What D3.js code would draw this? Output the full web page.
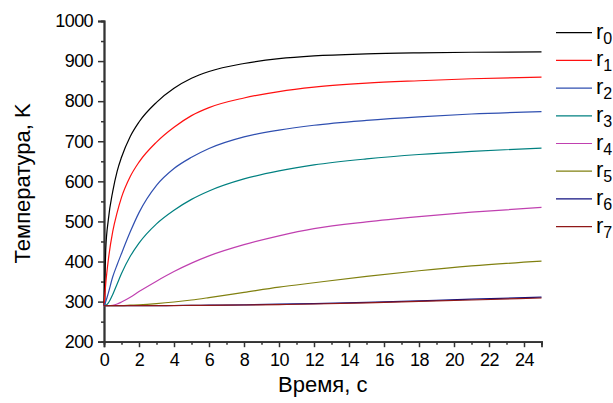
<!DOCTYPE html>
<html>
<head>
<meta charset="utf-8">
<script src="https://cdn.jsdelivr.net/npm/d3@7/dist/d3.min.js"></script>
<style>
  html, body { margin: 0; padding: 0; background: #fff; }
  svg { display: block; font-family: "Liberation Sans", Arial, sans-serif; }
</style>
</head>
<body>
<svg id="chart" width="613" height="403"></svg>
<script>
// Time samples, s
const times = [0, 0.1, 0.25, 0.5, 0.75, 1, 1.5, 2, 3, 4, 5, 6, 8, 10, 12, 15, 18, 21, 25];

// Temperature, K, at radii r0..r7
const r0 = [290, 430, 505, 575, 625, 660, 712, 748, 797, 832, 857, 874, 894, 906, 913, 918, 920.5, 922, 923];
const r1 = [290, 345, 405, 475, 522, 560, 612, 648, 698, 735, 764, 784, 808, 824, 835, 845, 851, 856, 860];
const r2 = [290, 300, 322, 362, 392, 420, 474, 522, 590, 632, 660, 682, 711, 728, 740, 752, 761, 768, 774];
const r3 = [290, 291, 297, 318, 344, 370, 413, 446, 494, 528, 555, 576, 606, 626, 641, 656, 667, 675, 683];
const r4 = [290, 290, 290, 291, 294, 299, 311, 325, 351, 375, 396, 414, 442, 464, 482, 499, 512, 523, 535];
const r5 = [290, 290, 290, 290, 290, 290, 291, 292, 295, 299, 304, 310, 323, 336, 347, 363, 377, 389, 401];
const r6 = [290, 290, 290, 290, 290, 290, 290, 290, 290, 290.3, 290.6, 291, 292, 293.5, 295, 298, 302, 306, 311];
const r7 = [290, 290, 290, 290, 290, 290, 290, 290, 290, 290.2, 290.4, 290.8, 291.5, 292.5, 294, 297, 300.5, 304, 309];

const seriesNames = ["0", "1", "2", "3", "4", "5", "6", "7"];
const seriesValues = [r0, r1, r2, r3, r4, r5, r6, r7];
const seriesColors = ["#000000", "#ff1010", "#2f4fb0", "#008080", "#c040b0", "#808010", "#101080", "#901818"];

const xMajor = d3.range(0, 25, 2);       // 0..24
const xMinor = d3.range(1, 26, 2);       // 1..25
const yMajor = d3.range(200, 1001, 100); // 200..1000
const yMinor = d3.range(250, 1000, 100);

const svg = d3.select("#chart");
const plotLeft = 104, plotRight = 541.5, plotTop = 21, plotBottom = 341.7;

const x = d3.scaleLinear().domain([0, 25]).range([plotLeft, plotRight]);
const y = d3.scaleLinear().domain([200, 1000]).range([plotBottom, plotTop]);

const axisColor = "#333";

// minor ticks first, then major axes with labels
const xMinorAxis = svg.append("g")
  .attr("transform", `translate(0,${plotBottom})`)
  .call(d3.axisBottom(x).tickValues(xMinor).tickSize(3).tickFormat(""));
const yMinorAxis = svg.append("g")
  .attr("transform", `translate(${plotLeft},0)`)
  .call(d3.axisLeft(y).tickValues(yMinor).tickSize(3).tickFormat(""));

const xAxis = svg.append("g")
  .attr("transform", `translate(0,${plotBottom})`)
  .call(d3.axisBottom(x).tickValues(xMajor).tickSize(5.5).tickPadding(6).tickFormat(d3.format("d")));
const yAxis = svg.append("g")
  .attr("transform", `translate(${plotLeft},0)`)
  .call(d3.axisLeft(y).tickValues(yMajor).tickSize(6).tickPadding(5).tickFormat(d3.format("d")));

[xMinorAxis, yMinorAxis, xAxis, yAxis].forEach(g => {
  g.select(".domain").attr("stroke", axisColor).attr("stroke-width", 1.8);
  g.selectAll(".tick line").attr("stroke", axisColor).attr("stroke-width", 1.5);
  g.selectAll("text")
    .attr("fill", "#000")
    .style("font-family", "'Liberation Sans', Arial, sans-serif")
    .style("font-size", "18px")
    .style("letter-spacing", "-0.6px");
});

// temperature curves
const line = d3.line()
  .x((d, i) => x(times[i]))
  .y(d => y(d))
  .curve(d3.curveMonotoneX);

const plot = svg.append("g");
seriesValues.forEach((vals, k) => {
  plot.append("path")
    .datum(vals)
    .attr("fill", "none")
    .attr("stroke", seriesColors[k])
    .attr("stroke-width", 1.2)
    .attr("d", line);
});

// axis titles
svg.append("text")
  .attr("x", (plotLeft + plotRight) / 2)
  .attr("y", 392)
  .attr("text-anchor", "middle")
  .style("font-size", "22px")
  .text("Время, с");

svg.append("text")
  .attr("transform", `translate(30,${(plotTop + plotBottom) / 2 + 2}) rotate(-90)`)
  .attr("text-anchor", "middle")
  .style("font-size", "22px")
  .text("Температура, K");

// legend
const legend = svg.append("g");
seriesNames.forEach((name, k) => {
  const ly = 32.7 + k * 27.7;
  legend.append("line")
    .attr("x1", 556).attr("x2", 592)
    .attr("y1", ly).attr("y2", ly)
    .attr("stroke", seriesColors[k])
    .attr("stroke-width", 1.2);
  const t = legend.append("text")
    .attr("x", 596)
    .attr("y", ly + 6)
    .style("font-size", "22px");
  t.append("tspan").text("r");
  t.append("tspan")
    .attr("dy", 5)
    .style("font-size", "16px")
    .text(name);
});
</script>
</body>
</html>
